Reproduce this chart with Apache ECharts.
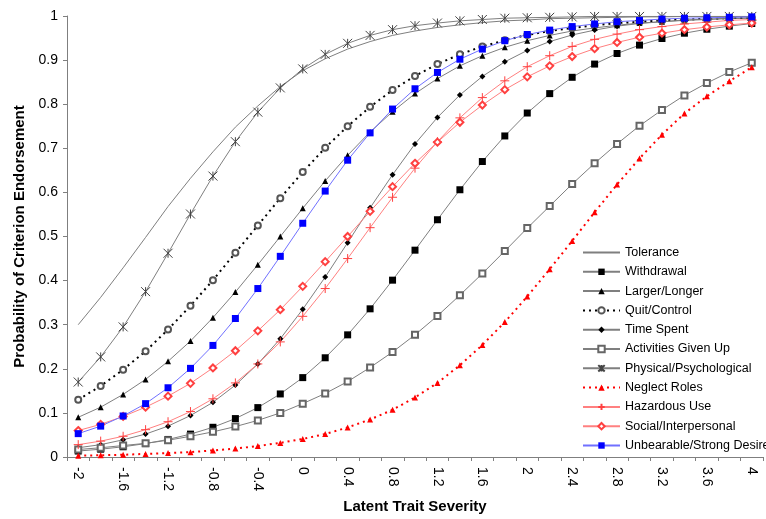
<!DOCTYPE html>
<html>
<head>
<meta charset="utf-8">
<script src="https://cdn.jsdelivr.net/npm/echarts@6/dist/echarts.min.js"></script>
<style>html,body{margin:0;padding:0;background:#fff;}#c{width:766px;height:519px;}</style>
</head>
<body>
<div id="c"></div>
<script>
var theta = ['-2','-1.8','-1.6','-1.4','-1.2','-1','-0.8','-0.6','-0.4','-0.2','0','0.2','0.4','0.6','0.8','1','1.2','1.4','1.6','1.8','2','2.2','2.4','2.6','2.8','3','3.2','3.4','3.6','3.8','4'];

var tolerance = [0.300,0.362,0.429,0.498,0.568,0.632,0.692,0.748,0.796,0.840,0.876,0.903,0.925,0.942,0.956,0.966,0.974,0.980,0.985,0.989,0.991,0.994,0.995,0.996,0.997,0.998,0.998,0.999,0.999,0.999,0.999];
var withdrawal = [0.0135,0.0177,0.0232,0.0304,0.0398,0.0519,0.0674,0.0871,0.112,0.143,0.180,0.225,0.277,0.336,0.401,0.469,0.538,0.606,0.670,0.728,0.780,0.824,0.861,0.891,0.915,0.934,0.949,0.961,0.970,0.977,0.983];
var largerLonger = [0.090,0.113,0.142,0.176,0.217,0.263,0.316,0.374,0.436,0.500,0.564,0.626,0.684,0.737,0.783,0.824,0.858,0.887,0.910,0.929,0.944,0.956,0.966,0.973,0.979,0.984,0.987,0.990,0.992,0.994,0.995];
var quitControl = [0.130,0.161,0.198,0.240,0.289,0.343,0.401,0.463,0.525,0.587,0.646,0.701,0.750,0.794,0.832,0.864,0.891,0.913,0.931,0.945,0.957,0.966,0.973,0.979,0.984,0.987,0.990,0.992,0.994,0.995,0.996];
var timeSpent = [0.021,0.028,0.039,0.052,0.070,0.094,0.124,0.163,0.211,0.268,0.335,0.408,0.486,0.565,0.640,0.710,0.770,0.821,0.863,0.896,0.922,0.942,0.957,0.968,0.977,0.983,0.987,0.991,0.993,0.995,0.996];
var activities = [0.017,0.021,0.026,0.031,0.038,0.047,0.057,0.069,0.083,0.100,0.121,0.144,0.171,0.203,0.238,0.277,0.320,0.367,0.416,0.467,0.519,0.569,0.619,0.666,0.710,0.751,0.787,0.820,0.848,0.873,0.894];
var physical = [0.170,0.227,0.295,0.375,0.462,0.551,0.637,0.715,0.782,0.837,0.880,0.913,0.938,0.956,0.969,0.978,0.984,0.989,0.992,0.995,0.996,0.997,0.998,0.999,0.999,0.999,0.999,0.999,0.999,0.999,0.999];
var neglectRoles = [0.003,0.004,0.005,0.007,0.009,0.011,0.015,0.019,0.025,0.032,0.041,0.052,0.067,0.085,0.107,0.135,0.168,0.208,0.254,0.306,0.364,0.426,0.490,0.555,0.618,0.677,0.731,0.779,0.818,0.852,0.884];
var hazardous = [0.028,0.036,0.047,0.062,0.080,0.103,0.132,0.168,0.211,0.261,0.319,0.382,0.450,0.520,0.589,0.655,0.715,0.769,0.815,0.853,0.885,0.910,0.931,0.947,0.959,0.969,0.976,0.982,0.986,0.990,0.992];
var social = [0.060,0.074,0.092,0.113,0.138,0.167,0.202,0.241,0.286,0.334,0.387,0.443,0.500,0.557,0.613,0.666,0.714,0.759,0.798,0.833,0.862,0.887,0.908,0.926,0.940,0.952,0.961,0.969,0.975,0.980,0.984];
var unbearable = [0.053,0.070,0.093,0.121,0.157,0.201,0.253,0.314,0.382,0.455,0.530,0.603,0.673,0.735,0.789,0.835,0.872,0.902,0.925,0.944,0.958,0.968,0.976,0.982,0.987,0.990,0.993,0.995,0.996,0.997,0.998];

var FONT = '"Liberation Sans", Arial, sans-serif';
var GREY = '#7f7f7f';
var PINK = '#ff8080';

function mk(name, data, lineColor, lineWidth, lineType, symbol, size, itemStyle, showSym) {
  return {
    name: name, type: 'line', data: data,
    symbol: symbol, symbolSize: size, showSymbol: showSym !== false,
    lineStyle: { color: lineColor, width: lineWidth, type: lineType },
    itemStyle: itemStyle,
    emphasis: { disabled: true },
    z: 2
  };
}

var series = [
  mk('Tolerance', tolerance, GREY, 1, 'solid', 'circle', 1, { color: 'rgba(0,0,0,0)', borderWidth: 0 }, false),
  mk('Withdrawal', withdrawal, GREY, 1, 'solid', 'rect', 7, { color: '#000' }),
  mk('Larger/Longer', largerLonger, GREY, 1, 'solid', 'triangle', 6, { color: '#000' }),
  mk('Quit/Control', quitControl, '#000', 2, [2, 4], 'emptyCircle', 6, { color: '#555', borderWidth: 1 }),
  mk('Time Spent', timeSpent, GREY, 1, 'solid', 'diamond', 6, { color: '#000' }),
  mk('Activities Given Up', activities, GREY, 1, 'solid', 'emptyRect', 6, { color: '#666', borderWidth: 1 }),
  mk('Physical/Psychological', physical, GREY, 1, 'solid', 'path://M0,0L10,10M10,0L0,10M5,0L5,10', 9, { color: 'rgba(0,0,0,0)', borderColor: '#444', borderWidth: 1 }),
  mk('Neglect Roles', neglectRoles, '#ff0000', 2, [2, 4], 'triangle', 6, { color: '#ff0000' }),
  mk('Hazardous Use', hazardous, PINK, 1, 'solid', 'path://M5,0L5,10M0,5L10,5', 9, { color: 'rgba(0,0,0,0)', borderColor: '#ff4040', borderWidth: 1 }),
  mk('Social/Interpersonal', social, PINK, 1, 'solid', 'emptyDiamond', 7, { color: '#ff4040', borderWidth: 1 }),
  mk('Unbearable/Strong Desire', unbearable, '#7070ff', 1, 'solid', 'rect', 7, { color: '#0000ff' })
];

var chart = echarts.init(document.getElementById('c'));
chart.setOption({
  animation: false,
  backgroundColor: '#fff',
  textStyle: { fontFamily: FONT },
  grid: { left: 67, right: 3, top: 16, bottom: 62, containLabel: false, outerBoundsMode: 'none' },
  legend: {
    orient: 'vertical', left: 577, top: 241,
    itemWidth: 37, itemHeight: 8, itemGap: 6.3,
    selectedMode: false,
    textStyle: { fontFamily: FONT, fontSize: 12.5, color: '#000' },
    data: series.map(function (s) { return s.name; })
  },
  xAxis: {
    type: 'category', data: theta, boundaryGap: true,
    name: 'Latent Trait Severity', nameLocation: 'middle', nameGap: 42,
    nameTextStyle: { fontFamily: FONT, fontSize: 15, fontWeight: 'bold', color: '#000' },
    axisLine: { lineStyle: { color: GREY, width: 1 } },
    axisTick: { show: true, interval: 0, length: 4, inside: false, lineStyle: { color: GREY } },
    axisLabel: { interval: 1, rotate: -90, margin: 10, fontSize: 14, color: '#000', fontFamily: FONT },
    splitLine: { show: false }
  },
  yAxis: {
    type: 'value', min: 0, max: 1, interval: 0.1,
    name: 'Probability of Criterion Endorsement', nameLocation: 'middle', nameGap: 37, nameRotate: 90,
    nameTextStyle: { fontFamily: FONT, fontSize: 15, fontWeight: 'bold', color: '#000' },
    axisLine: { show: true, lineStyle: { color: GREY, width: 1 } },
    axisTick: { show: true, length: 4, lineStyle: { color: GREY } },
    axisLabel: { margin: 9, fontSize: 14, color: '#000', fontFamily: FONT,
      formatter: function (v) { return String(Math.round(v * 10) / 10); } },
    splitLine: { show: false }
  },
  series: series
});
</script>
</body>
</html>
